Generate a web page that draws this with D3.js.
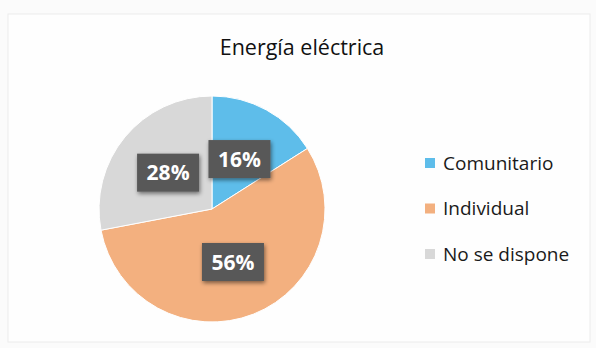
<!DOCTYPE html>
<html>
<head>
<meta charset="utf-8">
<script src="https://cdn.jsdelivr.net/npm/d3@7"></script>
<style>
  html, body { margin: 0; padding: 0; background: #ffffff; }
  svg { display: block; }
</style>
</head>
<body>
<svg id="chart" width="596" height="348"></svg>
<script>
// Energy supply breakdown
const categories = ["Comunitario", "Individual", "No se dispone"];
const values = [16, 56, 28];
const colors = ["#5ebdea", "#f3b07f", "#d8d8d8"];
const title = "Energía eléctrica";

const W = 596, H = 348;
const svg = d3.select("#chart");

// soft chart background
svg.append("rect").attr("x", 0).attr("y", 0).attr("width", W).attr("height", H).attr("fill", "#fbfbfb");
svg.append("rect").attr("x", 8).attr("y", 14).attr("width", W - 14).attr("height", H - 20)
  .attr("fill", "#fefefe").attr("stroke", "#ececec").attr("stroke-width", 1);

const defs = svg.append("defs");
const shadow = defs.append("filter").attr("id", "boxShadow")
  .attr("x", "-30%").attr("y", "-30%").attr("width", "160%").attr("height", "160%");
shadow.append("feGaussianBlur").attr("in", "SourceAlpha").attr("stdDeviation", 2).attr("result", "b");
shadow.append("feOffset").attr("in", "b").attr("dx", 1).attr("dy", 2).attr("result", "o");
shadow.append("feComponentTransfer").attr("in", "o").attr("result", "s")
  .append("feFuncA").attr("type", "linear").attr("slope", 0.5);
const merge = shadow.append("feMerge");
merge.append("feMergeNode").attr("in", "s");
merge.append("feMergeNode").attr("in", "SourceGraphic");

// title
svg.append("text")
  .attr("x", 302).attr("y", 55)
  .attr("text-anchor", "middle")
  .attr("font-family", "'Open Sans', 'Noto Sans', sans-serif")
  .attr("font-size", 21.5)
  .attr("fill", "#111")
  .text(title);

// pie
const cx = 212, cy = 209, r = 113;
const pie = d3.pie().sort(null).value(d => d.value);
const data = pie(categories.map((c, i) => ({ name: c, value: values[i], color: colors[i] })));
const arc = d3.arc().innerRadius(0).outerRadius(r);
const labelArc = d3.arc().innerRadius(57 * 2 - r).outerRadius(r); // centroid at radius 57

const g = svg.append("g").attr("transform", `translate(${cx},${cy})`);
g.selectAll("path.slice").data(data).enter().append("path")
  .attr("class", "slice")
  .attr("d", arc)
  .attr("fill", d => d.data.color)
  .attr("stroke", "#ffffff")
  .attr("stroke-width", 1);

// value labels in dark boxes
const bw = 62, bh = 38;
const lab = g.selectAll("g.lab").data(data).enter().append("g")
  .attr("class", "lab")
  .attr("transform", d => { const [x, y] = labelArc.centroid(d); return `translate(${x},${y})`; });
lab.append("rect")
  .attr("x", -bw / 2).attr("y", -bh / 2).attr("width", bw).attr("height", bh)
  .attr("fill", "#595959")
  .attr("filter", "url(#boxShadow)");
lab.append("text")
  .attr("text-anchor", "middle")
  .attr("dy", "0.36em")
  .attr("font-family", "'Open Sans', 'Noto Sans', sans-serif")
  .attr("font-weight", "bold")
  .attr("font-size", 21)
  .attr("fill", "#ffffff")
  .text(d => d.data.value + "%");

// legend
const legendY = d3.scalePoint().domain(categories).range([163, 254]);
const leg = svg.append("g").selectAll("g").data(categories).enter().append("g")
  .attr("transform", d => `translate(425,${legendY(d)})`);
leg.append("rect")
  .attr("x", 0).attr("y", -5).attr("width", 10).attr("height", 10)
  .attr("fill", (d, i) => colors[i]);
leg.append("text")
  .attr("x", 18).attr("dy", "0.36em")
  .attr("font-family", "'Open Sans', 'Noto Sans', sans-serif")
  .attr("font-size", 19)
  .attr("fill", "#1a1a1a")
  .text(d => d);
</script>
</body>
</html>
